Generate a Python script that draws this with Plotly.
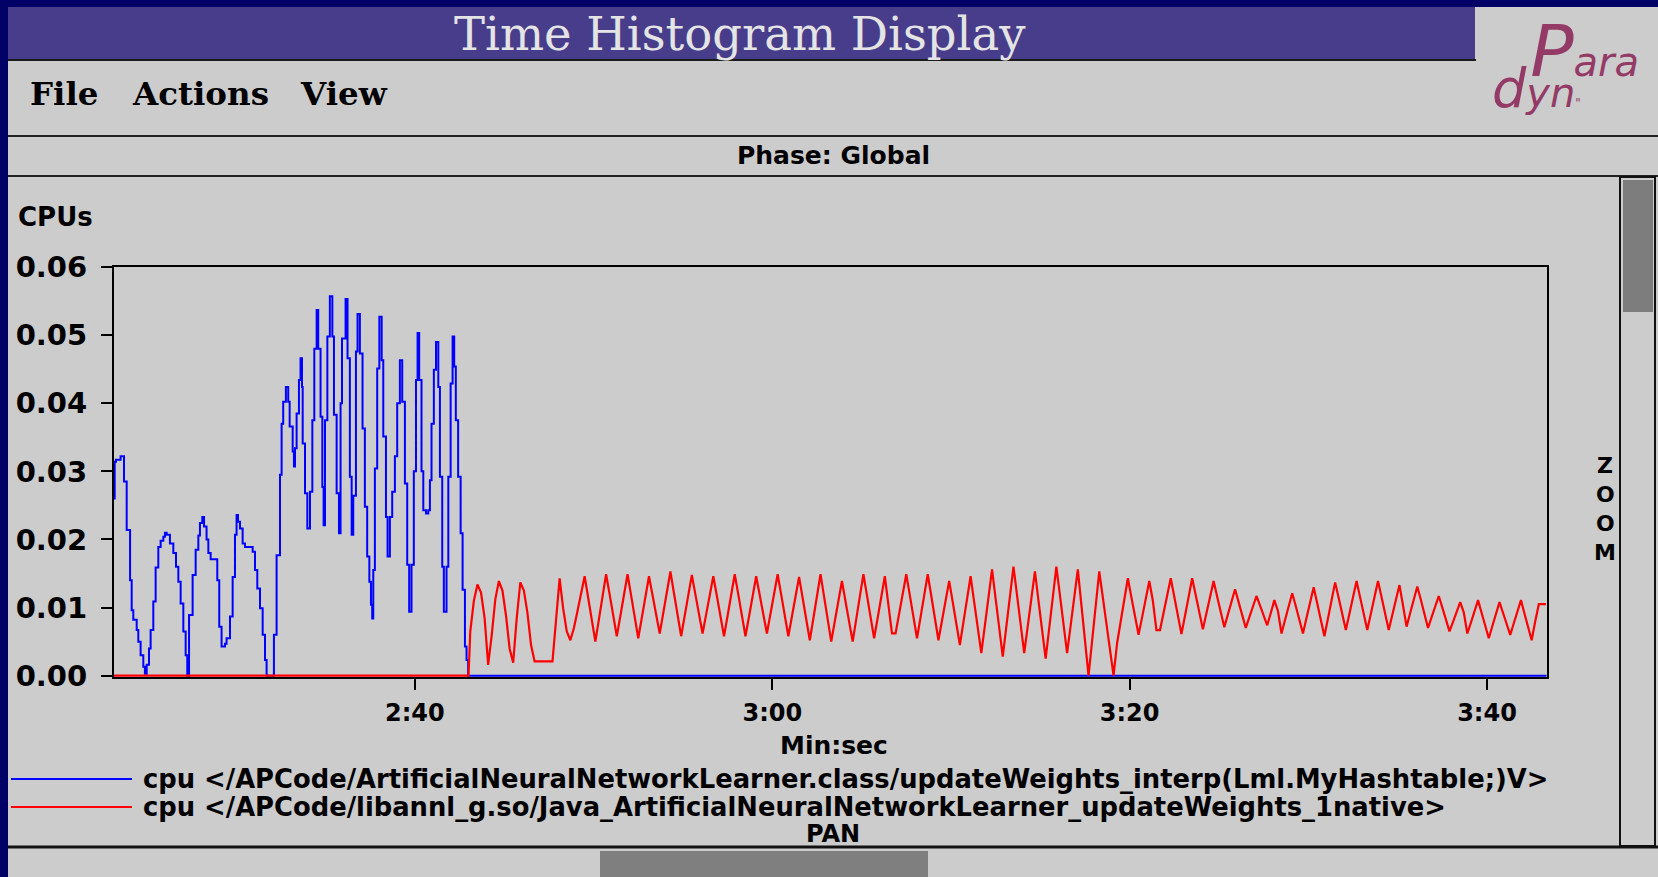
import plotly.graph_objects as go

# ---------------- data ----------------
# x tick positions (seconds) and their labels
TICK_SECONDS = [160, 180, 200, 220]
TICK_LABELS = ["2:40", "3:00", "3:20", "3:40"]
Y_TICKS = [0.00, 0.01, 0.02, 0.03, 0.04, 0.05, 0.06]
Y_TICK_LABELS = ["0.00", "0.01", "0.02", "0.03", "0.04", "0.05", "0.06"]
X_RANGE = [143.16, 223.33]

# blue series: step start times (s) and values (CPUs)
BLUE_T = [143.00, 143.20, 143.27, 143.53, 143.72, 143.87, 144.06, 144.15, 144.24, 144.43,
          144.52, 144.65, 144.80, 144.89, 144.99, 145.12, 145.21, 145.36, 145.49, 145.64,
          145.77, 145.92, 146.01, 146.11, 146.29, 146.48, 146.63, 146.76, 146.89, 147.04,
          147.17, 147.26, 147.36, 147.56, 147.73, 147.88, 147.97, 148.10, 148.20, 148.34,
          148.44, 148.57, 148.94, 149.05, 149.18, 149.37, 149.46, 149.65, 149.80, 149.93,
          150.02, 150.10, 150.21, 150.36, 150.49, 150.92, 151.05, 151.18, 151.33, 151.48,
          151.61, 151.70, 152.11, 152.26, 152.45, 152.54, 152.63, 152.78, 152.91, 152.99,
          153.16, 153.23, 153.29, 153.38, 153.51, 153.60, 153.68, 153.72, 153.85, 153.98,
          154.13, 154.26, 154.37, 154.50, 154.59, 154.72, 154.82, 154.89, 154.97, 155.10,
          155.24, 155.38, 155.47, 155.62, 155.75, 155.84, 155.92, 156.12, 156.23, 156.36,
          156.46, 156.55, 156.70, 156.79, 156.92, 157.07, 157.20, 157.33, 157.45, 157.54,
          157.61, 157.67, 157.76, 157.89, 158.01, 158.14, 158.23, 158.38, 158.47, 158.60,
          158.73, 158.88, 159.01, 159.16, 159.29, 159.44, 159.57, 159.68, 159.81, 159.94,
          160.06, 160.15, 160.24, 160.37, 160.47, 160.62, 160.75, 160.84, 160.93, 161.06,
          161.18, 161.31, 161.40, 161.53, 161.62, 161.77, 161.87, 162.00, 162.11, 162.20,
          162.29, 162.42, 162.56, 162.67, 162.80, 162.89, 162.98, 223.40]
BLUE_V = [0.0260, 0.0314, 0.0317, 0.0322, 0.0285, 0.0214, 0.0140, 0.0096, 0.0082, 0.0067,
          0.0050, 0.0030, 0.0013, 0.0003, 0.0016, 0.0040, 0.0067, 0.0109, 0.0159, 0.0189,
          0.0198, 0.0204, 0.0210, 0.0207, 0.0194, 0.0180, 0.0160, 0.0138, 0.0106, 0.0065,
          0.0030, 0.0000, 0.0089, 0.0148, 0.0185, 0.0206, 0.0224, 0.0233, 0.0219, 0.0200,
          0.0180, 0.0171, 0.0140, 0.0072, 0.0043, 0.0047, 0.0055, 0.0087, 0.0145, 0.0207,
          0.0236, 0.0226, 0.0216, 0.0194, 0.0189, 0.0182, 0.0155, 0.0128, 0.0099, 0.0060,
          0.0023, 0.0000, 0.0060, 0.0177, 0.0295, 0.0370, 0.0402, 0.0424, 0.0402, 0.0366,
          0.0329, 0.0307, 0.0334, 0.0385, 0.0434, 0.0466, 0.0424, 0.0341, 0.0268, 0.0216,
          0.0270, 0.0375, 0.0480, 0.0537, 0.0480, 0.0380, 0.0277, 0.0221, 0.0375, 0.0498,
          0.0557, 0.0498, 0.0383, 0.0268, 0.0209, 0.0400, 0.0495, 0.0553, 0.0466, 0.0292,
          0.0207, 0.0264, 0.0476, 0.0531, 0.0473, 0.0363, 0.0248, 0.0175, 0.0138, 0.0104,
          0.0084, 0.0155, 0.0304, 0.0451, 0.0527, 0.0463, 0.0351, 0.0233, 0.0175, 0.0233,
          0.0270, 0.0322, 0.0400, 0.0463, 0.0402, 0.0282, 0.0163, 0.0094, 0.0163, 0.0300,
          0.0434, 0.0503, 0.0434, 0.0300, 0.0243, 0.0238, 0.0243, 0.0287, 0.0370, 0.0449,
          0.0490, 0.0424, 0.0292, 0.0160, 0.0094, 0.0160, 0.0292, 0.0429, 0.0498, 0.0454,
          0.0375, 0.0292, 0.0209, 0.0126, 0.0043, 0.0023, 0.0000, 0.0000]

# red series: zero until it starts, then 0.2 s histogram bins (values at bin centres)
RED_ZERO_T = [143.00, 163.00]
RED_BIN_START = 163.0
RED_BIN_WIDTH = 0.2
RED_V = [
    0.0065, 0.0110, 0.0134, 0.0122, 0.0085, 0.0016, 0.0060, 0.0112, 0.0139, 0.0125,
    0.0088, 0.0040, 0.0019, 0.0085, 0.0137, 0.0125, 0.0092, 0.0045, 0.0021, 0.0021,
    0.0021, 0.0021, 0.0021, 0.0021, 0.0082, 0.0143, 0.0098, 0.0065, 0.0052, 0.0070,
    0.0095, 0.0122, 0.0146, 0.0114, 0.0082, 0.0050, 0.0083, 0.0116, 0.0149, 0.0119,
    0.0088, 0.0058, 0.0088, 0.0119, 0.0149, 0.0118, 0.0086, 0.0055, 0.0085, 0.0116,
    0.0146, 0.0118, 0.0090, 0.0062, 0.0092, 0.0123, 0.0153, 0.0121, 0.0090, 0.0058,
    0.0088, 0.0118, 0.0148, 0.0119, 0.0091, 0.0062, 0.0090, 0.0118, 0.0146, 0.0117,
    0.0087, 0.0058, 0.0088, 0.0119, 0.0149, 0.0119, 0.0088, 0.0058, 0.0087, 0.0117,
    0.0146, 0.0118, 0.0090, 0.0062, 0.0091, 0.0120, 0.0149, 0.0119, 0.0088, 0.0058,
    0.0087, 0.0116, 0.0145, 0.0114, 0.0083, 0.0052, 0.0084, 0.0117, 0.0149, 0.0116,
    0.0083, 0.0050, 0.0080, 0.0109, 0.0139, 0.0109, 0.0080, 0.0050, 0.0083, 0.0116,
    0.0149, 0.0118, 0.0086, 0.0055, 0.0085, 0.0116, 0.0146, 0.0104, 0.0062, 0.0062,
    0.0091, 0.0120, 0.0149, 0.0118, 0.0086, 0.0055, 0.0086, 0.0118, 0.0149, 0.0117,
    0.0084, 0.0052, 0.0081, 0.0110, 0.0139, 0.0108, 0.0076, 0.0045, 0.0079, 0.0112,
    0.0146, 0.0108, 0.0071, 0.0033, 0.0074, 0.0115, 0.0156, 0.0113, 0.0071, 0.0028,
    0.0072, 0.0116, 0.0160, 0.0118, 0.0075, 0.0033, 0.0073, 0.0113, 0.0153, 0.0110,
    0.0068, 0.0025, 0.0070, 0.0115, 0.0160, 0.0118, 0.0075, 0.0033, 0.0074, 0.0115,
    0.0156, 0.0104, 0.0052, 0.0000, 0.0051, 0.0102, 0.0153, 0.0115, 0.0077, 0.0038,
    0.0000, 0.0048, 0.0080, 0.0112, 0.0143, 0.0115, 0.0088, 0.0060, 0.0086, 0.0113,
    0.0139, 0.0110, 0.0067, 0.0067, 0.0092, 0.0118, 0.0143, 0.0116, 0.0088, 0.0061,
    0.0088, 0.0116, 0.0143, 0.0118, 0.0093, 0.0068, 0.0092, 0.0115, 0.0139, 0.0116,
    0.0094, 0.0071, 0.0090, 0.0108, 0.0127, 0.0108, 0.0089, 0.0070, 0.0086, 0.0101,
    0.0117, 0.0103, 0.0088, 0.0074, 0.0092, 0.0111, 0.0095, 0.0062, 0.0082, 0.0101,
    0.0121, 0.0102, 0.0082, 0.0062, 0.0085, 0.0107, 0.0130, 0.0106, 0.0082, 0.0058,
    0.0084, 0.0111, 0.0137, 0.0114, 0.0090, 0.0067, 0.0091, 0.0115, 0.0139, 0.0115,
    0.0091, 0.0067, 0.0091, 0.0115, 0.0139, 0.0115, 0.0091, 0.0067, 0.0089, 0.0111,
    0.0133, 0.0103, 0.0072, 0.0092, 0.0111, 0.0131, 0.0111, 0.0090, 0.0070, 0.0086,
    0.0101, 0.0117, 0.0100, 0.0082, 0.0065, 0.0079, 0.0094, 0.0108, 0.0093, 0.0062,
    0.0078, 0.0095, 0.0111, 0.0092, 0.0074, 0.0055, 0.0073, 0.0090, 0.0108, 0.0092,
    0.0076, 0.0060, 0.0077, 0.0094, 0.0111, 0.0091, 0.0071, 0.0052, 0.0080, 0.0105,
    0.0105, 0.0105,
]

BLUE_NAME = "cpu </APCode/ArtificialNeuralNetworkLearner.class/updateWeights_interp(Lml.MyHashtable;)V>"
RED_NAME = "cpu </APCode/libannl_g.so/Java_ArtificialNeuralNetworkLearner_updateWeights_1native>"

# ---------------- layout helpers ----------------
W, H = 1658, 877
NAVY = "#000066"
GRAY = "#cccccc"
PURPLE = "#483d8b"
LOGO = "#943a66"


def px(x):
    return x / W


def py(y):
    return 1 - y / H


def esc(s):
    return s.replace("<", "&lt;").replace(">", "&gt;")


red_t = RED_ZERO_T + [RED_BIN_START + RED_BIN_WIDTH * (i + 0.5) for i in range(len(RED_V))]
red_v = [0.0, 0.0] + RED_V

fig = go.Figure()
fig.add_trace(go.Scatter(x=BLUE_T, y=BLUE_V, mode="lines", line=dict(color="#0000ff", width=2, shape="hv"),
                         name=BLUE_NAME, hoverinfo="skip"))
fig.add_trace(go.Scatter(x=red_t, y=red_v, mode="lines", line=dict(color="#ff0000", width=2.2, shape="linear"),
                         name=RED_NAME, hoverinfo="skip"))

shapes = []


def rect(x0, y0, x1, y1, fill, line_color=None, lw=0):
    shapes.append(dict(type="rect", xref="paper", yref="paper", x0=px(x0), x1=px(x1), y0=py(y1), y1=py(y0),
                       fillcolor=fill, line=dict(color=line_color or fill, width=lw), layer="below"))


def hline(x0, x1, y, color, lw):
    shapes.append(dict(type="line", xref="paper", yref="paper", x0=px(x0), x1=px(x1), y0=py(y), y1=py(y),
                       line=dict(color=color, width=lw), layer="below"))


rect(8, 7, W, H, GRAY)
rect(8, 7, 1475, 59, PURPLE)
hline(8, 1476, 60, "#1a1a1a", 2)
hline(8, W, 136, "#222222", 2)
hline(8, W, 176, "#222222", 2)
rect(1620, 177, 1655, 846, GRAY, "#111111", 2)
rect(1623, 180, 1653, 312, "#7d7d7d")
hline(8, W, 847, "#111111", 3)
rect(600, 851, 928, 877, "#7f7f7f")
hline(11, 132, 779, "#0000ff", 2)
hline(11, 132, 807, "#ff0000", 2)

ann = []


def text(x, y, s, size, family="DejaVu Sans", color="black", xanchor="center", weight="normal", style="normal"):
    ann.append(dict(x=px(x), y=py(y), xref="paper", yref="paper", text=s, showarrow=False,
                    xanchor=xanchor, yanchor="middle",
                    font=dict(family=family, size=size, color=color, weight=weight, style=style)))


text(740, 34, "Time Histogram Display", 46.5, family="DejaVu Serif", color="#e4e4e4")
text(28, 93, "File", 32.5, family="DejaVu Serif", xanchor="left", weight="bold")
text(130, 93, "Actions", 32.5, family="DejaVu Serif", xanchor="left", weight="bold")
text(298, 93, "View", 32.5, family="DejaVu Serif", xanchor="left", weight="bold")
text(833, 156, "Phase: Global", 25, weight="bold")
text(16, 217, "CPUs", 26, xanchor="left", weight="bold")
text(834, 745, "Min:sec", 25, weight="bold")
text(141, 779, esc(BLUE_NAME), 25.8, xanchor="left", weight="bold")
text(141, 807, esc(RED_NAME), 25.8, xanchor="left", weight="bold")
text(833, 834, "PAN", 24, weight="bold")
for i, ch in enumerate("ZOOM"):
    text(1605, 465 + 29 * i, ch, 22, weight="bold")
# Paradyn logo (one two-line text)
ann.append(dict(
    x=px(1490), y=py(64), xref="paper", yref="paper", showarrow=False, xanchor="left", yanchor="middle",
    align="left",
    text=("&nbsp;&nbsp;&nbsp;&nbsp;&nbsp;<span style='font-size:72px'>P</span>"
          "<span style='font-size:40px'>ara</span><br>"
          "<span style='font-size:54px'>d</span><span style='font-size:40px'>yn</span>"
          "<span style='font-size:12px'>\"</span>"),
    font=dict(family="DejaVu Sans", size=24, color=LOGO, style="italic")))

Y0PX, Y1PX = 677.4, 267.0
fig.update_layout(
    width=W, height=H, margin=dict(l=0, r=0, t=0, b=0, autoexpand=False),
    paper_bgcolor=NAVY, plot_bgcolor=GRAY, showlegend=False,
    shapes=shapes, annotations=ann,
    xaxis=dict(domain=[px(114), px(1546.5)], range=X_RANGE, tickvals=TICK_SECONDS, ticktext=TICK_LABELS,
               ticks="outside", ticklen=11, tickwidth=2, tickcolor="black", showline=True, linecolor="black",
               linewidth=2, mirror=True, showgrid=False, zeroline=False, layer="below traces",
               automargin=False,
               tickfont=dict(family="DejaVu Sans", size=24, color="black", weight="bold"),
               ticklabelstandoff=2),
    yaxis=dict(domain=[py(Y0PX), py(Y1PX)], range=[-0.00025, 0.06], tickvals=Y_TICKS, ticktext=Y_TICK_LABELS,
               ticks="outside", ticklen=11, tickwidth=2, tickcolor="black", showline=True, linecolor="black",
               linewidth=2, mirror=True, showgrid=False, zeroline=False, layer="below traces",
               automargin=False,
               tickfont=dict(family="DejaVu Sans", size=29, color="black", weight="bold"),
               ticklabelstandoff=8),
)

fig.write_html("out.html", config={"displayModeBar": False},
               post_script="document.body.style.margin='0';document.body.style.overflow='hidden';")
